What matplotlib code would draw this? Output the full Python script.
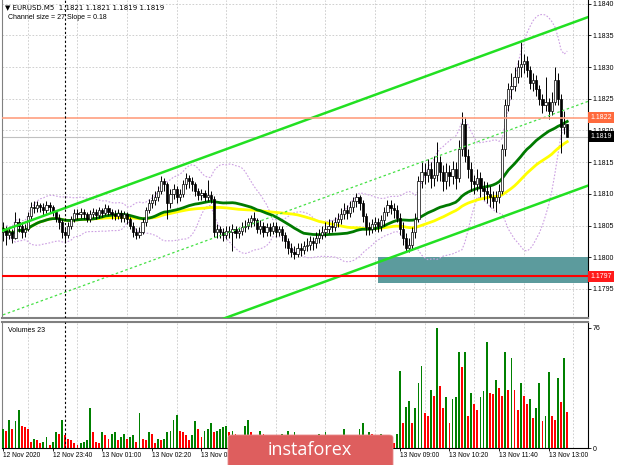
import numpy as np
import pandas as pd
import matplotlib
matplotlib.use("Agg")
import matplotlib.pyplot as plt
from matplotlib.patches import Rectangle, FancyBboxPatch

plt.rcParams['font.family'] = ['Liberation Sans', 'DejaVu Sans']

# ---- data (EURUSD M5, 12 Nov 22:20 .. 13 Nov 13:30) ----
symbol = "EURUSD.M5"
last_ohlc = "1.1821 1.1821 1.1819 1.1819"
channel_info = "Channel size = 27 Slope = 0.18"
volume_title = "Volumes 23"

first_open = 1.18040
closes = [
    1.18045, 1.18035, 1.18040, 1.18030, 1.18055, 1.18050, 1.18040, 1.18045, 1.18065, 1.18080,
    1.18078, 1.18082, 1.18080, 1.18075, 1.18082, 1.18080, 1.18072, 1.18062, 1.18055, 1.18040,
    1.18035, 1.18050, 1.18060, 1.18070, 1.18068, 1.18072, 1.18068, 1.18060, 1.18068, 1.18072,
    1.18066, 1.18075, 1.18070, 1.18078, 1.18072, 1.18068, 1.18065, 1.18070, 1.18062, 1.18068,
    1.18060, 1.18050, 1.18040, 1.18035, 1.18040, 1.18055, 1.18075, 1.18085, 1.18090, 1.18095,
    1.18105, 1.18120, 1.18115, 1.18085, 1.18100, 1.18108, 1.18095, 1.18100, 1.18115, 1.18125,
    1.18120, 1.18115, 1.18105, 1.18098, 1.18102, 1.18095, 1.18098, 1.18092, 1.18040, 1.18045,
    1.18040, 1.18035, 1.18042, 1.18040, 1.18045, 1.18038, 1.18042, 1.18048, 1.18050, 1.18055,
    1.18062, 1.18058, 1.18045, 1.18050, 1.18040, 1.18048, 1.18042, 1.18050, 1.18040, 1.18045,
    1.18035, 1.18025, 1.18015, 1.18008, 1.18005, 1.18015, 1.18012, 1.18018, 1.18020, 1.18025,
    1.18022, 1.18030, 1.18035, 1.18040, 1.18045, 1.18050, 1.18048, 1.18055, 1.18060, 1.18068,
    1.18075, 1.18070, 1.18080, 1.18088, 1.18095, 1.18085, 1.18065, 1.18048, 1.18045, 1.18052,
    1.18055, 1.18050, 1.18058, 1.18072, 1.18082, 1.18078, 1.18075, 1.18062, 1.18045, 1.18030,
    1.18015, 1.18020, 1.18040, 1.18060, 1.18120, 1.18135, 1.18130, 1.18140, 1.18125, 1.18130,
    1.18150, 1.18135, 1.18120, 1.18135, 1.18128, 1.18140, 1.18125, 1.18170, 1.18210, 1.18160,
    1.18140, 1.18120, 1.18115, 1.18125, 1.18110, 1.18105, 1.18100, 1.18095, 1.18088, 1.18095,
    1.18105, 1.18170, 1.18240, 1.18265, 1.18270, 1.18285, 1.18300, 1.18305, 1.18310, 1.18295,
    1.18275, 1.18280, 1.18265, 1.18250, 1.18240, 1.18245, 1.18230, 1.18245, 1.18280, 1.18250,
    1.18205, 1.18210, 1.18190,
]
highs = [
    1.18055, 1.18050, 1.18048, 1.18045, 1.18071, 1.18062, 1.18055, 1.18052, 1.18072, 1.18087,
    1.18088, 1.18088, 1.18086, 1.18085, 1.18088, 1.18087, 1.18083, 1.18075, 1.18068, 1.18060,
    1.18048, 1.18055, 1.18065, 1.18076, 1.18076, 1.18078, 1.18076, 1.18072, 1.18074, 1.18078,
    1.18076, 1.18080, 1.18078, 1.18084, 1.18082, 1.18076, 1.18074, 1.18076, 1.18074, 1.18073,
    1.18072, 1.18064, 1.18055, 1.18046, 1.18048, 1.18062, 1.18080, 1.18092, 1.18100, 1.18105,
    1.18112, 1.18128, 1.18125, 1.18118, 1.18108, 1.18115, 1.18112, 1.18108, 1.18122, 1.18133,
    1.18130, 1.18126, 1.18118, 1.18110, 1.18108, 1.18106, 1.18122, 1.18104, 1.18096, 1.18052,
    1.18050, 1.18046, 1.18050, 1.18050, 1.18052, 1.18050, 1.18048, 1.18055, 1.18058, 1.18062,
    1.18066, 1.18071, 1.18062, 1.18058, 1.18056, 1.18054, 1.18054, 1.18056, 1.18055, 1.18050,
    1.18050, 1.18040, 1.18030, 1.18022, 1.18018, 1.18022, 1.18022, 1.18026, 1.18030, 1.18034,
    1.18032, 1.18040, 1.18045, 1.18050, 1.18055, 1.18060, 1.18058, 1.18064, 1.18070, 1.18078,
    1.18085, 1.18082, 1.18088, 1.18095, 1.18101, 1.18098, 1.18090, 1.18070, 1.18056, 1.18060,
    1.18064, 1.18062, 1.18066, 1.18080, 1.18090, 1.18090, 1.18085, 1.18082, 1.18070, 1.18055,
    1.18038, 1.18030, 1.18048, 1.18070, 1.18128, 1.18150, 1.18148, 1.18155, 1.18150, 1.18160,
    1.18182, 1.18160, 1.18145, 1.18148, 1.18145, 1.18152, 1.18150, 1.18185, 1.18229, 1.18222,
    1.18170, 1.18150, 1.18130, 1.18140, 1.18135, 1.18120, 1.18118, 1.18112, 1.18105, 1.18105,
    1.18115, 1.18178, 1.18250, 1.18275, 1.18290, 1.18300, 1.18312, 1.18340, 1.18320, 1.18318,
    1.18302, 1.18290, 1.18288, 1.18272, 1.18258, 1.18285, 1.18252, 1.18260, 1.18300, 1.18290,
    1.18258, 1.18230, 1.18210,
]
lows = [
    1.18025, 1.18020, 1.18028, 1.18022, 1.18028, 1.18040, 1.18030, 1.18032, 1.18042, 1.18060,
    1.18070, 1.18072, 1.18072, 1.18066, 1.18070, 1.18072, 1.18065, 1.18055, 1.18045, 1.18030,
    1.18022, 1.18030, 1.18045, 1.18055, 1.18060, 1.18062, 1.18060, 1.18055, 1.18055, 1.18062,
    1.18060, 1.18062, 1.18064, 1.18066, 1.18066, 1.18060, 1.18058, 1.18060, 1.18055, 1.18056,
    1.18052, 1.18044, 1.18032, 1.18028, 1.18030, 1.18036, 1.18050, 1.18070, 1.18078, 1.18082,
    1.18088, 1.18100, 1.18105, 1.18060, 1.18078, 1.18092, 1.18085, 1.18088, 1.18095, 1.18108,
    1.18110, 1.18105, 1.18096, 1.18090, 1.18090, 1.18088, 1.18088, 1.18085, 1.18032, 1.18030,
    1.18030, 1.18026, 1.18028, 1.18030, 1.18010, 1.18030, 1.18030, 1.18035, 1.18040, 1.18044,
    1.18048, 1.18050, 1.18038, 1.18036, 1.18032, 1.18034, 1.18034, 1.18036, 1.18032, 1.18034,
    1.18025, 1.18015, 1.18005, 1.18000, 1.17997, 1.18000, 1.18002, 1.18005, 1.18010, 1.18012,
    1.18012, 1.18015, 1.18022, 1.18028, 1.18032, 1.18038, 1.18040, 1.18042, 1.18048, 1.18052,
    1.18060, 1.18060, 1.18064, 1.18072, 1.18080, 1.18075, 1.18055, 1.18035, 1.18035, 1.18038,
    1.18042, 1.18040, 1.18042, 1.18050, 1.18065, 1.18068, 1.18062, 1.18055, 1.18035, 1.18020,
    1.18008, 1.18008, 1.18012, 1.18030, 1.18055, 1.18110, 1.18115, 1.18118, 1.18110, 1.18112,
    1.18120, 1.18120, 1.18105, 1.18108, 1.18112, 1.18115, 1.18108, 1.18118, 1.18160, 1.18150,
    1.18125, 1.18105, 1.18100, 1.18105, 1.18095, 1.18090, 1.18085, 1.18080, 1.18078, 1.18072,
    1.18085, 1.18100, 1.18160, 1.18230, 1.18250, 1.18262, 1.18275, 1.18285, 1.18290, 1.18285,
    1.18265, 1.18262, 1.18255, 1.18240, 1.18228, 1.18230, 1.18218, 1.18225, 1.18240, 1.18240,
    1.18165, 1.18195, 1.18190,
]
volumes = [
    12, 11, 18, 12, 17, 24, 14, 13, 12, 4,
    6, 5, 3, 4, 7, 2, 4, 10, 9, 18,
    8, 6, 5, 3, 2, 3, 4, 5, 25, 10,
    4, 3, 10, 8, 6, 9, 10, 5, 7, 9,
    6, 7, 8, 4, 22, 6, 5, 10, 9, 3,
    6, 5, 6, 10, 11, 18, 21, 11, 10, 8,
    5, 8, 17, 12, 7, 11, 12, 16, 10, 11,
    12, 13, 14, 10, 11, 9, 5, 6, 14, 18,
    10, 6, 4, 11, 9, 5, 6, 4, 3, 5,
    9, 6, 11, 6, 10, 5, 4, 6, 3, 5,
    4, 6, 9, 6, 10, 5, 7, 4, 6, 5,
    12, 6, 4, 7, 5, 12, 16, 7, 10, 9,
    5, 6, 9, 5, 6, 4, 3, 9, 49, 16,
    26, 30, 16, 25, 41, 52, 22, 20, 37, 33,
    76, 39, 25, 32, 16, 31, 32, 61, 51, 61,
    20, 35, 28, 24, 32, 36, 67, 35, 34, 43,
    38, 33, 61, 37, 57, 37, 24, 41, 33, 28,
    31, 19, 25, 41, 17, 20, 48, 20, 18, 44,
    29, 57, 23,
]

time_tick_bars = [0, 16, 32, 48, 64, 80, 96, 112, 128, 144, 160, 176]
time_labels = ["12 Nov 2020", "12 Nov 23:40", "13 Nov 01:00", "13 Nov 02:20",
               "13 Nov 03:40", "13 Nov 05:00", "13 Nov 06:20", "13 Nov 07:40",
               "13 Nov 09:00", "13 Nov 10:20", "13 Nov 11:40", "13 Nov 13:00"]
day_separator_bar = 20          # 13 Nov 00:00

# regression channel (mid line anchors) and its half width
channel_bars = [0, 182]
channel_mid = [1.17909, 1.18234]
channel_half = 0.00133

support_level = 1.1797
resistance_level = 1.1822
last_price = 1.1819
zone_start_bar = 121
zone_top = 1.1800
zone_bottom = 1.1796

price_ticks = [1.1795, 1.1800, 1.1805, 1.1810, 1.1815, 1.1820, 1.1825, 1.1830, 1.1835, 1.1840]
volume_ticks = [0, 76]


def main():
    c = np.array(closes)
    o = np.r_[first_open, c[:-1]]
    h = np.array(highs)
    l = np.array(lows)
    v = np.array(volumes)
    x = np.arange(len(c))

    s = pd.Series(c)
    ma30 = s.rolling(30, min_periods=1).mean()
    ma50 = s.rolling(50, min_periods=1).mean()
    bb_mid = s.rolling(20, min_periods=1).mean()
    bb_std = s.rolling(20, min_periods=2).std(ddof=0)

    xmin, xmax = -0.35, 188.7

    fig = plt.figure(figsize=(6.2, 4.65), dpi=100)
    ax = fig.add_axes([2 / 620, 1 - 318 / 465, 586 / 620, 318 / 465])
    axv = fig.add_axes([2 / 620, 1 - 448 / 465, 586 / 620, 126 / 465])

    grid_kw = dict(color='#c8c8c8', linestyle=(0, (2, 2)), linewidth=0.6)
    for a in (ax, axv):
        a.set_xlim(xmin, xmax)
        a.set_xticks(np.arange(0, 189, 8), minor=True)
        a.grid(which='minor', axis='x', **grid_kw)
        a.set_axisbelow(True)
        a.yaxis.tick_right()
        a.tick_params(axis='y', labelsize=5, length=2, width=0.6, pad=1.5)
        a.tick_params(axis='x', which='minor', length=0)
        a.axvline(day_separator_bar, color='black', linestyle=(0, (2, 2)),
                  linewidth=0.8, zorder=7)
        for side in ('left', 'top', 'bottom'):
            a.spines[side].set_color('#808080')
        a.spines['right'].set_color('black')
        a.spines['right'].set_linewidth(0.8)

    # ---- price panel ----
    ax.set_ylim(1.17904, 1.18406)
    ax.set_yticks(price_ticks)
    ax.set_yticklabels([f"{p:.4f}" for p in price_ticks])
    ax.grid(which='major', axis='y', **grid_kw)
    ax.set_xticks(time_tick_bars)
    ax.tick_params(axis='x', which='major', length=0, labelbottom=False)
    ax.spines['top'].set_visible(False)
    ax.spines['bottom'].set_linewidth(1.5)

    ax.add_patch(Rectangle((zone_start_bar, zone_bottom), xmax - zone_start_bar,
                           zone_top - zone_bottom, facecolor='#5c9b9d',
                           edgecolor='none', zorder=1))

    ax.plot(x, bb_mid + 2 * bb_std, color='#cc9fe2', linestyle=(0, (1.5, 1.5)),
            linewidth=0.8, zorder=2)
    ax.plot(x, bb_mid - 2 * bb_std, color='#cc9fe2', linestyle=(0, (1.5, 1.5)),
            linewidth=0.8, zorder=2)
    ax.plot(x, ma50, color='#ffff00', linewidth=2.0, zorder=3)
    ax.plot(x, ma30, color='#007a00', linewidth=2.0, zorder=3)

    # candles
    up = c >= o
    ax.vlines(x, l, h, color='black', linewidth=0.7, zorder=4)
    body_low = np.minimum(o, c)
    body_h = np.maximum(np.abs(c - o), 0.000012)
    ax.bar(x, body_h, bottom=body_low, width=0.7,
           color=np.where(up, 'white', 'black'), edgecolor='black',
           linewidth=0.5, zorder=5)

    # regression channel
    slope = (channel_mid[1] - channel_mid[0]) / (channel_bars[1] - channel_bars[0])
    xr = np.array([channel_bars[0], xmax])
    mid = channel_mid[0] + slope * (xr - channel_bars[0])
    ax.plot(xr, mid + channel_half, color='#22e022', linewidth=1.8, zorder=6)
    ax.plot(xr, mid - channel_half, color='#22e022', linewidth=1.8, zorder=6)
    ax.plot(xr, mid, color='#44e044', linestyle=(0, (2, 2)), linewidth=0.9, zorder=6)

    # horizontal levels
    ax.axhline(last_price, color='#c0c0c0', linewidth=0.8, zorder=2)
    ax.axhline(resistance_level, color='#ff9f80', linewidth=1.2, zorder=6)
    ax.axhline(support_level, color='#ff0000', linewidth=1.5, zorder=6)

    tag_tr = ax.get_yaxis_transform()
    for level, bg in ((resistance_level, '#ff6a3d'), (last_price, 'black'),
                      (support_level, '#ff1a1a')):
        ax.text(1.004, level, f"{level:.4f}", transform=tag_tr, fontsize=5,
                color='white', va='center', ha='left', zorder=10, clip_on=False,
                bbox=dict(boxstyle='square,pad=0.28', fc=bg, ec='none'))

    ax.text(0.005, 0.978, "\u25bc " + symbol + "  " + last_ohlc, transform=ax.transAxes,
            fontsize=5, va='center', ha='left', family=['DejaVu Sans'])
    ax.text(0.011, 0.944, channel_info, transform=ax.transAxes,
            fontsize=5, va='center', ha='left')

    # ---- volume panel ----
    axv.set_ylim(0, 79.7)
    axv.set_yticks(volume_ticks)
    axv.set_yticklabels([str(t) for t in volume_ticks])
    prev = np.r_[-1, v[:-1]]
    vcol = np.where(v > prev, '#008000', '#ff0000')
    axv.bar(x, v, width=0.6, color=vcol, zorder=3)
    axv.spines['top'].set_linewidth(1.5)
    axv.spines['bottom'].set_color('black')
    axv.set_xticks(time_tick_bars)
    axv.set_xticklabels(time_labels)
    axv.tick_params(axis='x', which='major', labelsize=4.8, length=2, width=0.6, pad=1)
    for lab in axv.get_xticklabels():
        lab.set_ha('left')
    axv.text(0.011, 0.935, volume_title, transform=axv.transAxes,
             fontsize=5, va='center', ha='left')

    # watermark
    fig.patches.append(FancyBboxPatch((228 / 620, -0.02), 165 / 620, 0.02 + 30 / 465,
                                      boxstyle='round,pad=0,rounding_size=0.006',
                                      transform=fig.transFigure, facecolor='#de5e5e',
                                      edgecolor='#e88a8a', linewidth=0.6, zorder=20))
    fig.text(310 / 620, 1 - 450 / 465, "instaforex", color='white', fontsize=13,
             ha='center', va='center', family=['Open Sans', 'DejaVu Sans'], zorder=21)

    fig.savefig("out.png", dpi=100, facecolor='white')


if __name__ == "__main__":
    main()
